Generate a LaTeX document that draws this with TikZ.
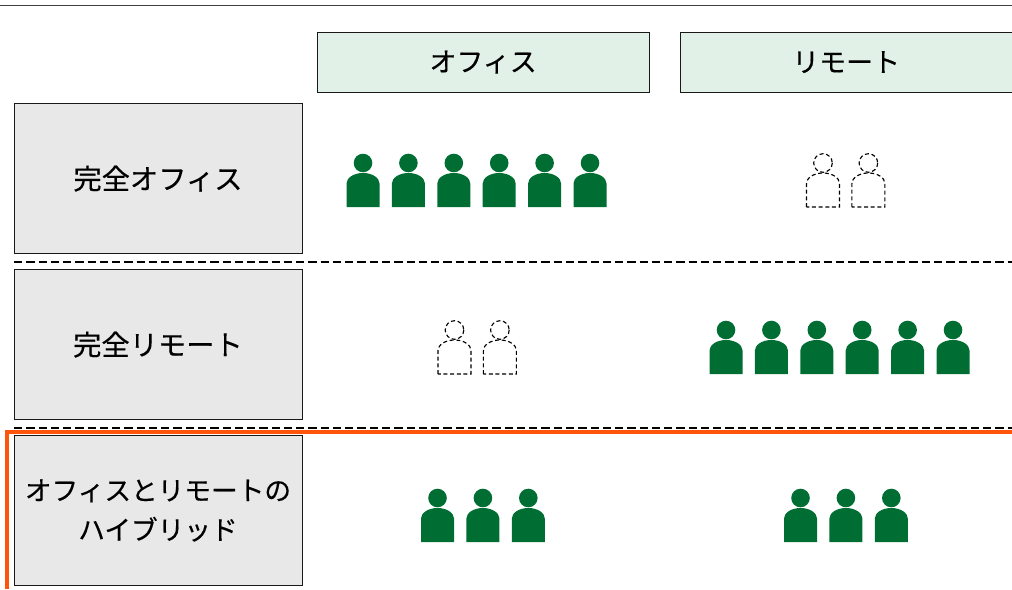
\documentclass[tikz,border=0pt]{standalone}
\usepackage{fontspec}
\setmainfont[FakeBold=0.35]{Noto Sans CJK JP}
\definecolor{pgreen}{RGB}{0,110,51}
\definecolor{hdrgreen}{RGB}{226,241,231}
\definecolor{rowgray}{RGB}{232,232,232}
\definecolor{hiorange}{RGB}{255,85,10}
\tikzset{
  x=0.75pt,y=-0.75pt,
  rowbox/.style={draw=black!90,fill=rowgray,line width=0.75pt,minimum width=216pt,minimum height=112pt,inner sep=0pt,align=center,anchor=north west},
  rowbig/.style={rowbox,font=\fontsize{21.2pt}{30pt}\selectfont},
  rowsmall/.style={rowbox,font=\fontsize{20pt}{29.5pt}\selectfont},
  hdrbox/.style={draw=black!90,fill=hdrgreen,line width=0.75pt,minimum width=249.2pt,minimum height=45pt,inner sep=0pt,font=\fontsize{20.2pt}{30pt}\selectfont,anchor=north west},
  divider/.style={draw=black,line width=1.5pt,dash pattern=on 6.2pt off 3pt},
  solidp/.style={fill=pgreen,draw=none},
  dashp/.style={draw=black,fill=none,line width=0.85pt,dash pattern=on 3pt off 2pt},
  pics/person/.style={code={
    \path[#1] (0,0) circle[radius=9.3];
    \path[#1] (-16.5,44) -- (-16.5,20.5) .. controls (-16.5,15) and (-9.5,10) .. (0,10) .. controls (9.5,10) and (16.5,15) .. (16.5,20.5) -- (16.5,44) -- cycle;
  }}
}
\newcommand{\persons}[4]{\foreach \k in {1,...,#3}{\pic at ({#1+(\k-1)*45.4},#2) {person=#4};}}
\begin{document}
\begin{tikzpicture}
\useasboundingbox (0,0) rectangle (1012,589);
\coordinate (ruleL) at (0,5.5);
\coordinate (ruleR) at (1012,5.5);
\draw[black!75,line width=0.9pt] (ruleL) -- (ruleR);
\node[hdrbox] (office) at (316.5,31.6) {\raisebox{-1.2pt}{オフィス}};
\node[hdrbox] (remote) at (679.5,31.6) {\raisebox{-1.2pt}{リモート}};
\node[rowbig] (r1) at (13.5,103.4) {\raisebox{-0.8pt}{完全オフィス}};
\node[rowbig] (r2) at (13.5,269.4) {\raisebox{-0.8pt}{完全リモート}};
\node[rowsmall] (r3) at (13.5,435.4) {\raisebox{-1pt}{オフィスとリモートの}\\\raisebox{-1pt}{ハイブリッド}};
\coordinate (d1L) at (14,261.5);
\coordinate (d1R) at (1012,261.5);
\coordinate (d2L) at (14,427.5);
\coordinate (d2R) at (1012,427.5);
\draw[divider] (d1L) -- (d1R);
\draw[divider] (d2L) -- (d2R);
\persons{363}{163}{6}{solidp}
\persons{823}{163}{2}{dashp}
\persons{454.5}{330}{2}{dashp}
\persons{726}{330}{6}{solidp}
\persons{437.5}{498}{3}{solidp}
\persons{800.5}{498}{3}{solidp}
\coordinate (hiA) at (7,589);
\coordinate (hiB) at (7,432);
\coordinate (hiC) at (1012,432);
\draw[hiorange,line width=3pt,line join=miter] (hiA) -- (hiB) -- (hiC);
\end{tikzpicture}
\end{document}
